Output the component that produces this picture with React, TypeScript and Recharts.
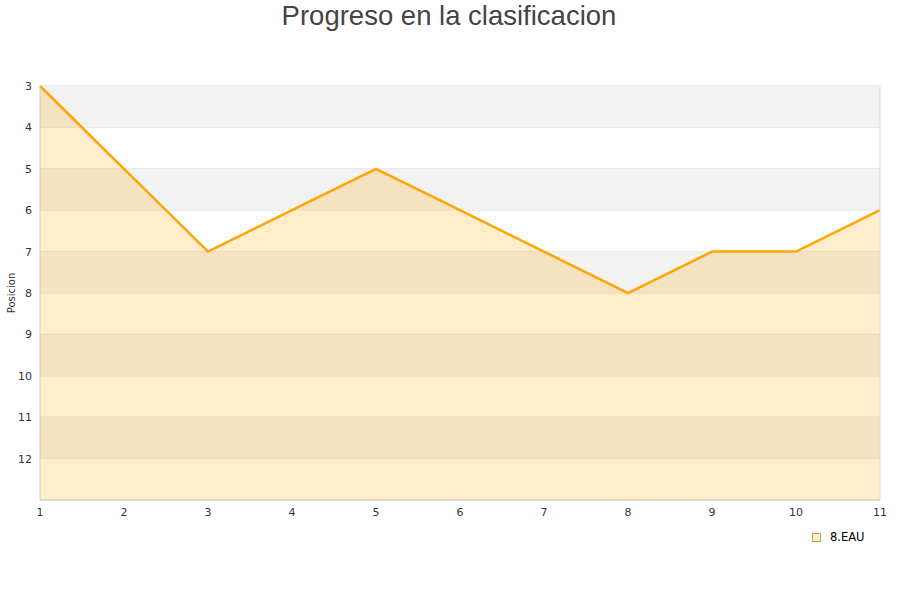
import { AreaChart, Area, XAxis, YAxis, CartesianGrid, ReferenceArea, ReferenceLine } from 'recharts';

const jornadas = [1, 2, 3, 4, 5, 6, 7, 8, 9, 10, 11];
const posiciones = [3, 5, 7, 6, 5, 6, 7, 8, 7, 7, 6];
const yTicks = [3, 4, 5, 6, 7, 8, 9, 10, 11, 12];
const grayBands = [
  [3, 4],
  [5, 6],
  [7, 8],
  [9, 10],
  [11, 12],
];

const data = jornadas.map((j, i) => ({ jornada: j, pos: posiciones[i] }));

const tickStyle = { fontSize: 11, fill: '#333', fontFamily: 'DejaVu Sans' };

export default function App() {
  return (
    <div style={{ position: 'absolute', left: 0, top: 0, width: 900, height: 600, background: '#fff' }}>
      <div
        style={{
          position: 'absolute',
          top: 0,
          left: 0,
          width: 898,
          textAlign: 'center',
          fontFamily: 'Liberation Sans, Arial, sans-serif',
          fontSize: 27.5,
          color: '#444',
          lineHeight: '32px',
        }}
      >
        Progreso en la clasificacion
      </div>
      <div
        style={{
          position: 'absolute',
          left: 11,
          top: 293,
          transform: 'translate(-50%, -50%) rotate(-90deg)',
          fontFamily: 'DejaVu Sans',
          fontSize: 10,
          color: '#333',
          whiteSpace: 'nowrap',
          zIndex: 2,
        }}
      >
        Posicion
      </div>
      <AreaChart width={900} height={600} data={data} margin={{ top: 86, right: 20, bottom: 80, left: 10 }}>
        {grayBands.map(([a, b]) => (
          <ReferenceArea key={a} y1={a} y2={b} fill="#f2f2f2" fillOpacity={1} stroke="none" ifOverflow="visible" />
        ))}
        <CartesianGrid vertical={false} stroke="#dddddd" />
        <ReferenceLine x={11} stroke="#dddddd" />
        <XAxis
          dataKey="jornada"
          type="number"
          domain={[1, 11]}
          ticks={jornadas}
          tickLine={false}
          stroke="#cccccc"
          tick={tickStyle}
          height={20}
        />
        <YAxis
          type="number"
          reversed
          domain={[3, 13]}
          ticks={yTicks}
          interval={0}
          tickLine={false}
          stroke="#cccccc"
          tick={tickStyle}
          width={30}
        />
        <Area
          type="linear"
          dataKey="pos"
          baseValue={13}
          stroke="#ffa500"
          strokeWidth={2.5}
          fill="#ffa500"
          fillOpacity={0.2}
          dot={false}
          activeDot={false}
          isAnimationActive={false}
        />
      </AreaChart>
      <div
        style={{
          position: 'absolute',
          left: 812,
          top: 530,
          display: 'flex',
          alignItems: 'center',
          fontFamily: 'DejaVu Sans',
          fontSize: 11.5,
          color: '#000',
        }}
      >
        <span style={{ display: 'inline-block', width: 7, height: 7, border: '1px solid #c8a060', background: '#ffeecc', marginRight: 9 }} />
        8.EAU
      </div>
    </div>
  );
}
